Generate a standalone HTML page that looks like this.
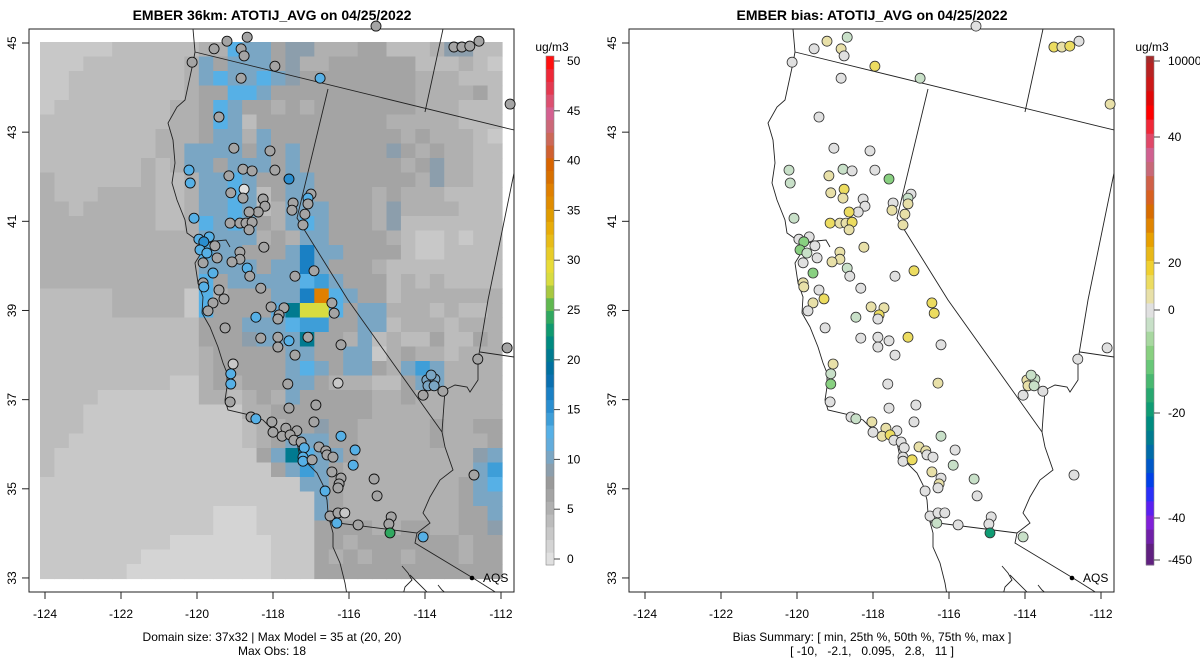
<!DOCTYPE html>
<html><head><meta charset="utf-8"><style>
html,body{margin:0;padding:0;background:#fff;}
svg{display:block;font-family:"Liberation Sans",Arial,sans-serif;}
</style></head><body>
<svg id="root" width="1200" height="672" viewBox="0 0 1200 672" xmlns="http://www.w3.org/2000/svg">
<defs>
<clipPath id="clipL"><rect x="29" y="29" width="485" height="563"/></clipPath>
<clipPath id="clipR"><rect x="629" y="29" width="485" height="563"/></clipPath>
</defs>
<text x="272" y="20" text-anchor="middle" font-size="14" font-weight="bold">EMBER 36km: ATOTIJ_AVG on 04/25/2022</text>
<text x="872" y="20" text-anchor="middle" font-size="14" font-weight="bold">EMBER bias: ATOTIJ_AVG on 04/25/2022</text>
<g id="gridL" clip-path="url(#clipL)"></g>
<g id="geoL" clip-path="url(#clipL)"></g>
<g id="geoR" clip-path="url(#clipR)"></g>
<g id="axes"></g>
<g id="sitesL"></g>
<g id="sitesR"></g>
<g id="cbars"></g>
<text x="272" y="641" text-anchor="middle" font-size="12">Domain size: 37x32 | Max Model = 35 at (20, 20)</text>
<text x="272" y="655" text-anchor="middle" font-size="12">Max Obs: 18</text>
<text x="872" y="641" text-anchor="middle" font-size="12">Bias Summary: [ min, 25th %, 50th %, 75th %, max ]</text>
<text x="872" y="655" text-anchor="middle" font-size="12" xml:space="preserve">[ -10,   -2.1,   0.095,   2.8,   11 ]</text>
</svg>
<script>
// ---------- data ----------
const lonTicks = [-124,-122,-120,-118,-116,-114,-112];
const latTicks = [33,35,37,39,41,43,45];
const obsTicks = [0,5,10,15,20,25,30,35,40,45,50];
const biasTickLabels = ["10000","40","20","0","-20","-40","-450"];
const biasTickValues = [10000,40,20,0,-20,-40,-450];
const codeValues = {"1":1.3,"2":2.6,"3":3.9,"4":5.2,"5":6.4,"6":9.0,"7":10.3,"8":11.6,"9":12.8,"B":14.1,"C":16.7,"T":20.5,"G":24.3,"Y":28.1,"O":36.5};
const gridRows = [
"22222 33333 34 4 9 77 5 66 444 55 333 4 66 33",
"222 3333333 4 7 5 777 5 6 44 555555 333 4 3 2",
"22 33333333 4 7 9 77 9 7 6 55555555 444 333",
"22 33333333 4 5 5 9 9 7 5 5 55555555 444 4 5 3",
"2 33333333 44 5 9 7 55 4 5 4 5555555 444 333",
"333333333 4 4 5 9 7 3 5 5 5 5 5 5 5 5 5 4 4 4 4 4 3 3 3",
"33333333 44 4 5 77 4 7 55 5555555 4 5 44 4 3 2",
"33333333 44 7777 5 7 5 7 5 55555 6 5 4 5 44 3 3",
"3333333 4 34 77 5 777 5 7 5 555555 4 5 6 44 33",
"4 333333 4 33 4 77 9 7 55 77 5 555555 4 6 44 33",
"4 333 4444 33 4 77 9 7 3 5 77 5 555 4 5 444 3333",
"44 3 44444 33 4 77 9 7 3 4 777 5 55 4 6 4 444 333",
"44444444 33 4 9 7 9 7 5 4 7 9 7 555 4 6 3333333",
"4444444444 4 7777 4 5 4 77 5 555 4 3 22 3 2 33",
"44444444444 9 77 555 7 C 77 5555 3 22 3333",
"44444444444 7777 5 77 C 7 5 55 4 33333333",
"44444444 444 9 5 7777 7 9 B 7 5 55 3 4 3 4 3333",
"33333 44444 2 9 4 5 5 5 7 7 C O 9 7 5 5 3 4 4 4 4 4 4 4",
"33333 44444 2 9 5 555 8 T YY 9 5 77 44434334",
"3333333333 3 5 55 777 9 BB 55 77 3 444 3 444",
"33333333333 555 6 777 T 55 4 7 3 4 33 5 33 5 4",
"33333333333 4 5555 5 77 55 77 2 4 5 44 3 444",
"33333333333 4 55555 7 9 7 5 77 5 4 7 B 7 4444",
"333333333 22 4 5 4 555 77 5 444 33 5 77 4444",
"3333 2222222 44 3 4 5 4 7 55 555 44 5 44 4444",
"333 22222222222 44 5555 555 444444444",
"333 22222222222 3 44 55 6 55 44444 5 44 55",
"33 222222222222 3 4 5 777 55 44444 5 444 5",
"3 22222222222222 5 7 T 9 77 5 44444444 6 7",
"3 222222222222222 5 7 B 7 5 444444444 7 B",
"222222222222222222 77 5 44444444 5 7 9",
"2222222222222222222 7 5 44444444 5 7 7",
"222222222222 111 2222 7 5 44444444 5 5 7",
"222222222222 111 2222 5555 44 55 44 5 5 6",
"222222222 1111111 222 5545555555455",
"2222222 111111111 222 5454554555455",
"222222 1111111111 222 5555555555555"
];
const siteLon = [-119.21,-118.68,-119.55,-118.84,-118.76,-120.13,-117.95,-118.84,-116.76,-115.29,-113.24,-113.03,-112.82,-112.58,-111.76,-119.42,-119.03,-118.08,-120.21,-118.79,-118.55,-117.95,-119.16,-117.58,-120.18,-119.11,-118.76,-118.79,-118.26,-118.21,-118.39,-118.63,-117.0,-117.08,-117.08,-117.47,-117.50,-117.16,-117.21,-120.08,-119.13,-118.87,-118.71,-118.55,-118.63,-119.68,-119.95,-119.82,-119.92,-119.74,-119.53,-119.47,-119.84,-119.58,-118.87,-118.87,-119.08,-118.24,-118.68,-118.61,-117.42,-116.92,-119.84,-119.82,-119.42,-119.29,-118.32,-119.58,-119.71,-118.05,-117.71,-117.84,-117.87,-118.45,-119.26,-116.45,-116.39,-118.32,-117.87,-117.58,-117.87,-117.42,-117.08,-116.21,-119.05,-119.11,-119.11,-117.61,-116.29,-119.13,-117.58,-116.87,-118.58,-118.45,-118.03,-116.92,-118.0,-117.66,-117.37,-117.76,-117.55,-117.45,-117.26,-117.18,-117.21,-117.21,-116.97,-116.79,-116.61,-116.58,-116.42,-116.21,-115.84,-115.89,-116.45,-116.21,-116.26,-116.29,-116.63,-115.34,-115.26,-116.5,-116.29,-116.11,-116.32,-115.76,-114.89,-114.95,-114.92,-114.05,-113.95,-113.74,-113.84,-113.92,-113.76,-114.05,-113.53,-112.61,-111.84,-112.71];
const siteLat = [45.04,45.13,44.87,44.87,44.71,44.57,44.48,44.21,44.21,45.38,44.91,44.91,44.93,45.04,43.63,43.34,42.64,42.58,42.15,42.17,42.13,42.15,42.02,41.95,41.86,41.64,41.72,41.52,41.50,41.34,41.21,41.21,41.61,41.52,41.39,41.41,41.25,41.16,40.92,41.07,40.96,40.96,40.96,40.98,40.81,40.65,40.60,40.54,40.36,40.29,40.45,40.18,40.07,39.84,40.31,40.15,40.09,40.42,39.95,39.77,39.77,39.89,39.62,39.53,39.46,39.26,39.50,39.17,38.99,39.08,39.06,38.90,38.81,38.85,38.61,39.17,38.94,38.38,38.40,38.32,38.18,38.00,38.40,38.23,37.80,37.58,37.35,37.35,37.37,36.95,36.81,36.88,36.61,36.57,36.50,36.50,36.27,36.36,36.30,36.18,36.21,36.09,36.05,35.92,35.71,35.62,35.65,35.94,35.85,35.76,35.71,36.18,35.87,35.53,35.38,35.24,35.11,35.02,34.95,35.22,34.84,34.39,34.46,34.46,34.23,34.19,34.37,34.21,34.01,33.92,37.44,37.46,37.55,37.31,37.31,37.10,37.19,37.91,38.16,35.31];
const siteObs = [6.4,6.4,6.4,6.4,6.4,6.4,6.4,6.4,12.8,6.4,6.4,6.4,6.4,6.4,6.4,6.4,6.4,6.4,12.8,6.4,6.4,6.4,6.4,15.4,12.8,6.4,0.5,6.4,6.4,6.4,6.4,6.4,6.4,12.8,6.4,6.4,6.4,6.4,6.4,12.8,6.4,6.4,6.4,6.4,6.4,12.8,12.8,15.4,12.8,12.8,6.4,6.4,6.4,12.8,6.4,6.4,6.4,6.4,12.8,6.4,6.4,6.4,6.4,12.8,6.4,6.4,6.4,6.4,6.4,6.4,6.4,6.4,6.4,12.8,6.4,6.4,6.4,6.4,6.4,12.8,6.4,6.4,6.4,6.4,3,12.8,12.8,6.4,3,6.4,6.4,6.4,6.4,12.8,6.4,6.4,6.4,6.4,6.4,6.4,6.4,6.4,6.4,12.8,12.8,12.8,6.4,6.4,6.4,6.4,6.4,12.8,12.8,12.8,6.4,6.4,6.4,6.4,12.8,6.4,6.4,6.4,6.4,3,12.8,6.4,6.4,6.4,24.3,12.8,10.3,10.3,10.3,10.3,10.3,6.4,6.4,6.4,6.4,6.4];
const siteBias = [3,-3,0,3,0,0,9,0,-3,0,9,3,9,0,3,0,0,0,-3,-3,0,0,3,-9,-3,3,9,3,0,0,0,9,0,-3,3,0,3,3,3,-3,9,3,3,9,3,0,0,-9,-9,-3,0,0,0,-9,3,3,3,3,-3,0,0,9,3,3,0,9,0,3,0,3,3,9,0,-3,0,9,9,0,0,0,0,0,9,0,3,-3,-9,0,3,0,0,0,0,-3,3,0,0,3,0,3,9,0,0,0,0,0,9,3,3,0,0,-3,0,-3,3,0,3,0,0,-3,0,0,0,0,-3,0,0,0,-18,-3,3,-3,-3,3,-3,0,0,0,0,0];

// ---------- palettes ----------
const obsPal = ["#e0e0e0","#d4d4d4","#c8c8c8","#bcbcbc","#b0b0b0","#a4a4a4","#9a9a9a","#8c9eac","#7aa6c4","#62acdc","#56b0e6","#3e9ed8","#2a8ed0","#1a80c4","#0a70b0","#0070a0","#007a90","#008a80","#109a70","#30a860","#60b850","#a8c840","#d8dc40","#e8dc38","#e8cc28","#e8bc18","#e8ac08","#e09c00","#e08c00","#e08000","#d87000","#d86400","#d06030","#cc6858","#cc6878","#d46090","#dc5070","#e43850","#ee2838","#ff1010"];
const biasPal = ["#a52a2a","#b82222","#cc1818","#e00808","#ff0000","#f02838","#e04868","#d06090","#c86878","#d06048","#d86020","#d86c00","#e08400","#e8a000","#e8b818","#f0d030","#ecdc60","#e8e0a8","#e0e0e0","#c8e0c8","#a8d8a0","#88d080","#68c878","#48b870","#28a870","#109c74","#008c80","#007c90","#006ca8","#0058c8","#0040e8","#2a30f8","#5a20f0","#8020d8","#7020a8","#602080"];
const biasAnchorV = [-450,-40,-20,0,20,40,10000];
const biasAnchorY = [560,518,413,310,263,137,61];

// ---------- scales ----------
const NS="http://www.w3.org/2000/svg";
function px(lon){return 45+(lon+124)*38;}
function py(lat){return 43+(45-lat)*44.58;}
const barTop=56, barBot=565;
const segR=(barBot-barTop)/biasPal.length;
function obsY(v){return 559-v*9.96;}
function obsColor(v){let k=Math.floor((barBot-obsY(v))/((barBot-barTop)/obsPal.length));k=Math.max(0,Math.min(obsPal.length-1,k));return obsPal[k];}
function biasY(v){for(let i=0;i<biasAnchorV.length-1;i++){if(v<=biasAnchorV[i+1]){const t=(v-biasAnchorV[i])/(biasAnchorV[i+1]-biasAnchorV[i]);return biasAnchorY[i]+t*(biasAnchorY[i+1]-biasAnchorY[i]);}}return biasAnchorY[biasAnchorY.length-1];}
function biasIndex(y){let k=Math.floor((y-barTop)/segR+0.5);return Math.max(0,Math.min(biasPal.length-1,k));}
function biasColor(v){return biasPal[biasIndex(biasY(v))];}
function mk(tag,attrs,parent){const e=document.createElementNS(NS,tag);for(const k in attrs)e.setAttribute(k,attrs[k]);parent.appendChild(e);return e;}

// ---------- grid ----------
const gridL=document.getElementById('gridL');
const gx0=40,gy0=42,cw=462/32,ch=536.5/37;
gridRows.forEach((row,j)=>{
  const s=row.replace(/ /g,'').padEnd(32,'4').slice(0,32);
  for(let i=0;i<32;i++){
    const v=codeValues[s[i]];
    const r=mk('rect',{x:(gx0+i*cw).toFixed(2),y:(gy0+j*ch).toFixed(2),width:(cw+0.6).toFixed(2),height:(ch+0.6).toFixed(2),fill:obsColor(v)},gridL);
    
    
  }
});

// ---------- geography (pixel outlines of the left panel; right = +600) ----------
const geoPaths=[
"M193,29 L195,52 L193,63 L185,100 L177,107 L168,123 L173,140 L175,163 L172,183 L177,200 L185,220 L187,233 L197,240 L203,250 L195,263 L198,283 L203,297 L202,313 L210,327 L218,347 L223,363 L227,373 L227,387 L225,400 L228,410 L250,415 L263,420 L273,430 L283,437 L297,443 L300,457 L307,463 L317,473 L323,485 L327,500 L328,513 L330,522 L333,533 L333,547 L340,563 L345,583 L347,595",
"M197,240 L208,243 L216,241 L226,240 L230,247",
"M195,52 L514,130",
"M443,29 L425,112",
"M328,89 L297,218 L348,300 L442,432",
"M442,432 L445,447 L453,470 L440,480 L430,497 L423,513 L430,523 L417,533",
"M330,522 L417,533 L415,543 L473,578 L500,595",
"M442,432 L445,390 L455,385 L467,387 L470,392 L478,380 L478,360 L488,300 L514,173",
"M480,352 L514,357",
"M402,566 L408,573 L412,580 L405,587 L403,595",
"M410,575 L430,595","M438,585 L442,590 L448,595"
];
[['geoL',0],['geoR',600]].forEach(([id,off])=>{
  const g=document.getElementById(id);
  geoPaths.forEach(d=>{
    const p=mk('path',{d:d,fill:'none',stroke:'#222','stroke-width':'0.9',transform:'translate('+off+',0)'},g);
    
    
  });
});

// ---------- axes ----------
const axes=document.getElementById('axes');
[0,600].forEach(off=>{
  const f=mk('rect',{x:29+off,y:29,width:485,height:563,fill:'none',stroke:'#222','stroke-width':'1'},axes);
  
  
  lonTicks.forEach(l=>{
    const x=px(l)+off;
    const t=mk('line',{x1:x,y1:592,x2:x,y2:599,stroke:'#222'},axes);
    
    
    const tx=mk('text',{x:x,y:618,'text-anchor':'middle','font-size':'12'},axes);
    tx.textContent=String(l);
    
    
  });
  latTicks.forEach(l=>{
    const y=py(l);
    const t=mk('line',{x1:22+off,y1:y,x2:29+off,y2:y,stroke:'#222'},axes);
    
    
    const tx=mk('text',{x:0,y:0,'text-anchor':'middle','font-size':'12',transform:'translate('+(16+off)+','+y+') rotate(-90)'},axes);
    tx.textContent=String(l);
    
    
  });
  const d=mk('circle',{cx:472+off,cy:578,r:2.3,fill:'#000'},axes);
  
  
  const a=mk('text',{x:483+off,y:582,'font-size':'12'},axes);
  a.textContent='AQS';
  
  
});

// ---------- sites ----------
const sL=document.getElementById('sitesL'), sR=document.getElementById('sitesR');
for(let i=0;i<siteLon.length;i++){
  const x=px(siteLon[i]), y=py(siteLat[i]);
  const c=mk('circle',{cx:x.toFixed(1),cy:y.toFixed(1),r:5,fill:obsColor(siteObs[i]),stroke:'#111','stroke-width':'0.9'},sL);
  
  
  const c2=mk('circle',{cx:(x+600).toFixed(1),cy:y.toFixed(1),r:5,fill:biasColor(siteBias[i]),stroke:'#333','stroke-width':'0.8'},sR);
  
  
}

// ---------- colorbars ----------
const cb=document.getElementById('cbars');
const segL=(barBot-barTop)/obsPal.length;
obsPal.forEach((col,k)=>{
  const r=mk('rect',{x:546,y:(barBot-(k+1)*segL).toFixed(2),width:8,height:(segL+0.5).toFixed(2),fill:col},cb);
  
  
});
const ob=mk('rect',{x:546,y:barTop,width:8,height:barBot-barTop,fill:'none',stroke:'#888','stroke-width':'0.6'},cb);


obsTicks.forEach(v=>{
  const y=obsY(v);
  const t=mk('line',{x1:554,y1:y,x2:560,y2:y,stroke:'#444'},cb);
  
  
  const tx=mk('text',{x:567,y:y+4,'font-size':'12'},cb);
  tx.textContent=String(v);
  
  
});
biasPal.forEach((col,k)=>{
  const y0=Math.max(barTop,barTop+(k-0.5)*segR);
  const y1=(k===biasPal.length-1)?barBot:Math.min(barBot,barTop+(k+0.5)*segR);
  const r=mk('rect',{x:1146,y:y0.toFixed(2),width:8,height:(y1-y0+0.5).toFixed(2),fill:col},cb);
  
  
});
const rb=mk('rect',{x:1146,y:barTop,width:8,height:barBot-barTop,fill:'none',stroke:'#888','stroke-width':'0.6'},cb);


biasTickValues.forEach((v,i)=>{
  const y=biasY(v);
  const t=mk('line',{x1:1154,y1:y,x2:1160,y2:y,stroke:'#444'},cb);
  
  
  const tx=mk('text',{x:1168,y:y+4,'font-size':'12'},cb);
  tx.textContent=biasTickLabels[i];
  
  
});
[[552,'obs-colorbar-units'],[1152,'bias-colorbar-units']].forEach(([x,n])=>{
  const tx=mk('text',{x:x,y:51,'text-anchor':'middle','font-size':'12'},cb);
  tx.textContent='ug/m3';
  
  
});
</script>
</body></html>
